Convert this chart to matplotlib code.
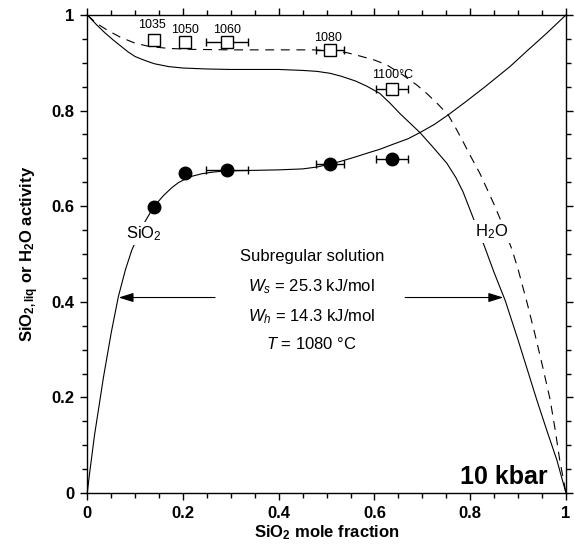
import matplotlib
matplotlib.use("Agg")
import matplotlib.pyplot as plt
from matplotlib.ticker import MultipleLocator, FuncFormatter

plt.rcParams['font.family'] = ['Liberation Sans', 'DejaVu Sans']
plt.rcParams['mathtext.fontset'] = 'custom'
plt.rcParams['mathtext.rm'] = 'Liberation Sans'
plt.rcParams['mathtext.it'] = 'Liberation Sans:italic'
plt.rcParams['mathtext.bf'] = 'Liberation Sans:bold'

# Subregular model curves (SiO2 mole fraction vs activity)
x_sio2_curve = [0.0, 0.004, 0.015, 0.034, 0.050, 0.065, 0.080, 0.093, 0.115, 0.139,
                0.160, 0.177, 0.190, 0.205, 0.220, 0.240, 0.260, 0.289, 0.350, 0.400,
                0.450, 0.480, 0.507, 0.530, 0.560, 0.585, 0.611, 0.640, 0.670, 0.695,
                0.725, 0.754, 0.790, 0.830, 0.883, 0.920, 0.960, 1.0]
a_sio2_curve = [0.0, 0.034, 0.120, 0.243, 0.335, 0.411, 0.468, 0.508, 0.558, 0.599,
                0.623, 0.639, 0.649, 0.657, 0.663, 0.668, 0.671, 0.674, 0.675, 0.676,
                0.678, 0.682, 0.688, 0.694, 0.703, 0.711, 0.719, 0.730, 0.741, 0.754,
                0.771, 0.791, 0.818, 0.849, 0.892, 0.926, 0.962, 1.0]

x_h2o_curve = [0.0, 0.020, 0.0376, 0.055, 0.070, 0.085, 0.100, 0.120, 0.140, 0.170,
               0.200, 0.250, 0.300, 0.350, 0.400, 0.450, 0.480, 0.507, 0.530, 0.560,
               0.584, 0.611, 0.633, 0.653, 0.674, 0.695, 0.720, 0.751, 0.770, 0.785,
               0.806, 0.829, 0.850, 0.873, 0.900, 0.939, 0.960, 0.981, 1.0]
a_h2o_curve = [1.0, 0.979, 0.962, 0.947, 0.935, 0.923, 0.913, 0.905, 0.898, 0.892,
               0.889, 0.887, 0.886, 0.886, 0.886, 0.884, 0.882, 0.878, 0.872, 0.862,
               0.851, 0.836, 0.815, 0.794, 0.774, 0.754, 0.726, 0.690, 0.660, 0.630,
               0.576, 0.518, 0.461, 0.403, 0.320, 0.195, 0.131, 0.069, 0.0]

# Alternative water activity curve (dashed)
x_h2o_alt = [0.0, 0.020, 0.044, 0.070, 0.100, 0.130, 0.170, 0.220, 0.300, 0.400,
             0.473, 0.510, 0.543, 0.570, 0.599, 0.625, 0.660, 0.689, 0.709, 0.730,
             0.754, 0.770, 0.785, 0.800, 0.820, 0.852, 0.870, 0.887, 0.900, 0.919,
             0.935, 0.950, 0.967, 0.977, 0.987, 1.0]
a_h2o_alt = [1.0, 0.982, 0.967, 0.953, 0.941, 0.934, 0.930, 0.928, 0.927, 0.927,
             0.927, 0.925, 0.921, 0.914, 0.906, 0.896, 0.874, 0.853, 0.836, 0.816,
             0.791, 0.763, 0.735, 0.706, 0.669, 0.599, 0.555, 0.510, 0.468, 0.397,
             0.333, 0.270, 0.195, 0.135, 0.069, 0.0]

# Experimental points
temps = ['1035', '1050', '1060', '1080', '1100°C']
x_exp = [0.140, 0.2036, 0.292, 0.507, 0.637]
x_err = [0.0, 0.0, 0.044, 0.0286, 0.034]
a_h2o_exp = [0.948, 0.9435, 0.9435, 0.927, 0.845]
a_sio2_exp = [0.599, 0.670, 0.676, 0.688, 0.698]

model_lines = ['Subregular solution',
               r'$W_s$ = 25.3 kJ/mol',
               r'$W_h$ = 14.3 kJ/mol',
               r'$T$ = 1080 °C']

fig = plt.figure(figsize=(5.74, 5.54), dpi=100)
ax = fig.add_axes([0.152, 0.110, 0.834, 0.863])

lw = 0.8
ax.plot(x_sio2_curve, a_sio2_curve, color='black', lw=lw, clip_on=False, zorder=2)
ax.plot(x_h2o_curve, a_h2o_curve, color='black', lw=lw, clip_on=False, zorder=2)
ax.plot(x_h2o_alt, a_h2o_alt, color='black', lw=lw, ls=(0, (8, 6)), clip_on=False, zorder=2)

# Experimental data with error bars
for xv, xe, yv in zip(x_exp, x_err, a_h2o_exp):
    ax.errorbar(xv, yv, xerr=xe if xe > 0 else None, fmt='s', ms=8, mfc='white',
                mec='black', mew=1.0, ecolor='black', elinewidth=1.0, capsize=3,
                capthick=1.0, zorder=4)
for xv, xe, yv in zip(x_exp, x_err, a_sio2_exp):
    ax.errorbar(xv, yv, xerr=xe if xe > 0 else None, fmt='o', ms=9, mfc='black',
                mec='black', ecolor='black', elinewidth=1.0, capsize=3,
                capthick=1.0, zorder=4)

label_dx = [-2, 0, 0, -2, 0]
label_dy = [15, 12, 12, 12, 14]
for t, xv, yv, dx, dy in zip(temps, x_exp, a_h2o_exp, label_dx, label_dy):
    ax.annotate(t, (xv, yv), xytext=(dx, dy), textcoords='offset pixels',
                ha='center', va='center', fontsize=9, zorder=5)

# Curve labels with white background to break the lines
box = dict(facecolor='white', edgecolor='none', pad=1.5)
ax.text(0.118, 0.543, r'SiO$_2$', ha='center', va='center', fontsize=12, bbox=box, zorder=3)
ax.text(0.845, 0.547, r'H$_2$O', ha='center', va='center', fontsize=12, bbox=box, zorder=3)

# Model parameters
for txt, yv in zip(model_lines, [0.494, 0.432, 0.370, 0.312]):
    ax.text(0.469, yv, txt, ha='center', va='center', fontsize=12)

arrow = dict(arrowstyle='-|>,head_length=0.9,head_width=0.28', color='black', lw=0.8,
             shrinkA=0, shrinkB=0)
ax.annotate('', xy=(0.0655, 0.409), xytext=(0.267, 0.409), arrowprops=arrow)
ax.annotate('', xy=(0.869, 0.409), xytext=(0.664, 0.409), arrowprops=arrow)

ax.text(0.962, 0.019, '10 kbar', ha='right', va='baseline', fontsize=18, fontweight='bold')

ax.set_xlim(0, 1)
ax.set_ylim(0, 1)
for s in ax.spines.values():
    s.set_linewidth(1.0)

fmt = FuncFormatter(lambda v, p: '0' if abs(v) < 1e-9 else ('1' if abs(v - 1) < 1e-9 else f'{v:.1f}'))
for axis in (ax.xaxis, ax.yaxis):
    axis.set_major_locator(MultipleLocator(0.2))
    axis.set_minor_locator(MultipleLocator(0.05))
    axis.set_major_formatter(fmt)
ax.tick_params(which='both', direction='out', top=True, right=True, width=1.0)
ax.tick_params(which='major', length=5, labelsize=12, pad=4)
ax.tick_params(which='minor', length=3.5)
for lab in ax.get_xticklabels() + ax.get_yticklabels():
    lab.set_fontweight('bold')

ax.set_xlabel(r'SiO$_\mathbf{2}$ mole fraction', fontsize=12, fontweight='bold', labelpad=2)
ax.set_ylabel(r'SiO$_\mathbf{2,liq}$ or H$_\mathbf{2}$O activity', fontsize=12,
              fontweight='bold', labelpad=8)

fig.savefig('out.png', dpi=100)
